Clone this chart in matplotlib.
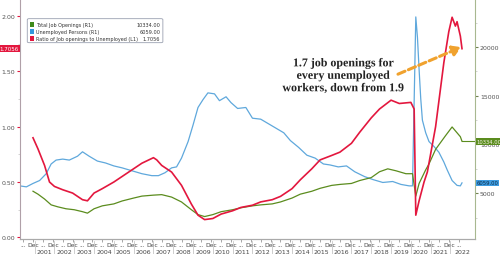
import numpy as np
import pandas as pd
import matplotlib
matplotlib.use("Agg")
import matplotlib.pyplot as plt
import matplotlib.patheffects as pe
import matplotlib.transforms as mtransforms
from matplotlib.patches import Rectangle, FancyBboxPatch

# unemployed persons (thousands)
unemp_dates = ['2000-04', '2000-08', '2000-12', '2001-04', '2001-08', '2001-11', '2002-02', '2002-06',
               '2002-10', '2003-03', '2003-06', '2003-10', '2004-03', '2004-08', '2005-01', '2005-06',
               '2005-12', '2006-06', '2006-12', '2007-04', '2007-08', '2007-12', '2008-03', '2008-06',
               '2008-10', '2009-01', '2009-04', '2009-07', '2009-10', '2010-02', '2010-05', '2010-09',
               '2010-12', '2011-04', '2011-09', '2012-01', '2012-06', '2012-11', '2013-03', '2013-08',
               '2013-12', '2014-05', '2014-10', '2015-03', '2015-08', '2015-12', '2016-05', '2016-10',
               '2017-03', '2017-09', '2018-02', '2018-08', '2019-02', '2019-07', '2019-12', '2020-02',
               '2020-04', '2020-05', '2020-06', '2020-07', '2020-08', '2020-10', '2020-12', '2021-03',
               '2021-06', '2021-09', '2021-11', '2022-02', '2022-05', '2022-07', '2022-08']
unemp_vals = [5750, 5650, 6000, 6300, 7000, 8000, 8400, 8500,
              8400, 8800, 9250, 8800, 8300, 8100, 7800, 7600,
              7300, 7000, 6800, 6800, 7100, 7600, 7700, 8600,
              10300, 12000, 13800, 14600, 15300, 15200, 14500, 14900,
              14300, 13700, 13800, 12700, 12600, 12100, 11700, 11200,
              10400, 9700, 8900, 8600, 8000, 7900, 7700, 7800,
              7200, 6700, 6400, 6100, 6200, 5900, 5750, 5750,
              23100, 21000, 17700, 14700, 12500, 11200, 10300, 9800,
              9200, 8200, 7400, 6300, 5800, 5750, 6059]

# total job openings (thousands)
open_dates = ['2000-12', '2001-03', '2001-07', '2001-11', '2002-03', '2002-08', '2003-01', '2003-06',
              '2003-09', '2004-01', '2004-06', '2005-01', '2005-06', '2006-01', '2006-06', '2007-01',
              '2007-06', '2007-12', '2008-06', '2008-12', '2009-04', '2009-08', '2010-01', '2010-06',
              '2011-01', '2011-06', '2012-01', '2012-06', '2013-01', '2013-06', '2014-01', '2014-06',
              '2015-01', '2015-06', '2016-01', '2016-06', '2017-01', '2017-06', '2018-01', '2018-06',
              '2018-11', '2019-04', '2019-10', '2020-02', '2020-04', '2020-06', '2020-10', '2020-12',
              '2021-04', '2021-07', '2021-10', '2022-02', '2022-05', '2022-07', '2022-08']
open_vals = [5200, 4900, 4400, 3800, 3600, 3400, 3300, 3100,
             2950, 3400, 3700, 3900, 4200, 4500, 4700, 4800,
             4850, 4600, 4100, 3300, 2800, 2600, 2800, 3100,
             3300, 3500, 3700, 3800, 3900, 4100, 4500, 4900,
             5200, 5500, 5800, 5900, 6000, 6300, 6600, 7200,
             7500, 7300, 7000, 7000, 4700, 6000, 7400, 8000,
             9500, 10200, 10900, 11800, 11200, 10800, 10334]

# ratio of job openings to unemployed
ratio_dates = ['2000-12', '2001-03', '2001-07', '2001-10', '2002-01', '2002-06', '2002-12', '2003-06',
               '2003-09', '2004-01', '2004-06', '2005-01', '2005-06', '2006-01', '2006-06', '2007-01',
               '2007-03', '2007-06', '2007-12', '2008-06', '2008-12', '2009-04', '2009-08', '2010-01',
               '2010-06', '2011-01', '2011-06', '2012-01', '2012-06', '2013-01', '2013-06', '2014-01',
               '2014-06', '2015-01', '2015-06', '2016-01', '2016-06', '2017-01', '2017-06', '2018-01',
               '2018-06', '2019-01', '2019-06', '2020-01', '2020-03', '2020-04', '2020-06', '2020-09',
               '2020-11', '2021-04', '2021-09', '2021-12', '2022-02', '2022-04', '2022-05', '2022-07',
               '2022-08']
ratio_vals = [0.90, 0.80, 0.65, 0.50, 0.46, 0.43, 0.40, 0.34,
              0.33, 0.40, 0.44, 0.50, 0.55, 0.62, 0.67, 0.72,
              0.70, 0.65, 0.59, 0.47, 0.30, 0.20, 0.16, 0.17,
              0.21, 0.24, 0.27, 0.29, 0.32, 0.34, 0.37, 0.44,
              0.52, 0.62, 0.70, 0.74, 0.77, 0.85, 0.95, 1.08,
              1.16, 1.24, 1.21, 1.22, 1.16, 0.20, 0.33, 0.50,
              0.59, 1.00, 1.58, 1.86, 1.99, 1.91, 1.95, 1.82,
              1.7056]

years = list(range(2001, 2023))
last_open, last_unemp, last_ratio = 10334.00, 6059.00, 1.7056

GREEN = '#5b8c1e'
BLUE = '#5fa8dc'
RED = '#e3173e'


def to_dec(dates):
    d = pd.to_datetime(dates)
    return d.year + (d.month - 1) / 12.0


fig = plt.figure(figsize=(5, 2.55), dpi=100)
ax = fig.add_axes([0.04, 0.059, 0.91, 0.941])
ax2 = ax.twinx()
ax.set_zorder(ax2.get_zorder() + 1)
ax.patch.set_visible(False)

ax2.plot(to_dec(unemp_dates), unemp_vals, color=BLUE, lw=0.9)
ax2.plot(to_dec(open_dates), open_vals, color=GREEN, lw=0.9)
ax2.plot([to_dec(open_dates)[-1], 2024], [last_open, last_open], color=GREEN, lw=0.8)
ax.plot(to_dec(ratio_dates), ratio_vals, color=RED, lw=1.2)

ax.set_xlim(2000.26, 2023.24)
ax.set_ylim(-0.015, 2.155)
ax2.set_ylim(300, 24940)

# spines
for a in (ax, ax2):
    a.spines['top'].set_visible(False)
    a.spines['bottom'].set_color('#aaaaaa')
ax.spines['left'].set_color('#b0a0a8')
ax2.spines['right'].set_color('#a8b890')
ax.spines['right'].set_visible(False)
ax2.spines['left'].set_visible(False)

# left axis
ax.set_yticks([0, 0.5, 1.0, 1.5, 2.0])
ax.set_yticklabels(['0.00', '0.50', '1.00', '1.50', '2.00'])
ax.set_yticks([0.25, 0.75, 1.25, 1.75], minor=True)
ax.tick_params(axis='y', labelsize=4.5, labelcolor='#555555', color=RED, length=2.5, width=0.8, pad=1)
ax.tick_params(axis='y', which='minor', color='#cccccc', length=1.5)

# right axis
ax2.set_yticks([5000, 10000, 15000, 20000])
ax2.set_yticks([2500, 7500, 12500, 17500, 22500], minor=True)
ax2.tick_params(axis='y', labelsize=4.5, labelcolor='#555555', color='#708050', length=2.5, width=0.8, pad=1)
ax2.tick_params(axis='y', which='minor', color='#cccccc', length=1.5)

# x axis: "..." / Dec row
all_years = [2000] + years
xt = [y + 5 / 12 for y in all_years] + [y + 11 / 12 for y in all_years[:-1]]
xl = ['...'] * len(all_years) + ['Dec'] * (len(all_years) - 1)
ax.set_xticks(xt)
ax.set_xticklabels(xl)
ax.tick_params(axis='x', labelsize=4.3, labelcolor='#444444', color='#999999',
               length=2, width=0.6, pad=0.5)

# year row with separators
trans = mtransforms.blended_transform_factory(ax.transData, ax.transAxes)
for y in years:
    ax.plot([y, y], [-0.01, -0.075], transform=trans, color='#bbbbbb', lw=0.5, clip_on=False)
    xc = y + 0.5 if y < years[-1] else 2022.62
    ax.text(xc, -0.052, str(y), transform=trans, ha='center', va='center', fontsize=4.5,
            color='#444444', clip_on=False)

# current value boxes
ax.text(-0.003, last_ratio, '%.4f' % last_ratio, transform=ax.get_yaxis_transform(),
        ha='right', va='center', fontsize=4.0, color='white',
        bbox=dict(boxstyle='square,pad=0.2', fc=RED, ec='none'))
ax2.text(1.003, last_open, '%.2f' % last_open, transform=ax2.get_yaxis_transform(),
         ha='left', va='center', fontsize=3.8, color='#f4f4e8',
         bbox=dict(boxstyle='square,pad=0.15', fc=GREEN, ec='none'))
ax2.text(1.003, last_unemp, '%.2f' % last_unemp, transform=ax2.get_yaxis_transform(),
         ha='left', va='center', fontsize=3.8, color='#10304a',
         bbox=dict(boxstyle='square,pad=0.15', fc='#3d9be0', ec='none'))

# legend
leg = FancyBboxPatch((0.016, 0.818), 0.298, 0.1, boxstyle='round,pad=0,rounding_size=0.004',
                     transform=ax.transAxes, fc='white', ec='#9aa0b0', lw=0.6, zorder=5)
ax.add_patch(leg)
entries = [('Total Job Openings (R1)', '%.2f' % last_open, '#3f8a1a'),
           ('Unemployed Persons (R1)', '%.2f' % last_unemp, '#3398dd'),
           ('Ratio of Job openings to Unemployed (L1)', '%.4f' % last_ratio, RED)]
for i, (lab, val, col) in enumerate(entries):
    yy = 0.895 - i * 0.03
    ax.add_patch(Rectangle((0.022, yy - 0.011), 0.009, 0.022, transform=ax.transAxes,
                           fc=col, ec='none', zorder=6))
    ax.text(0.036, yy, lab, transform=ax.transAxes, fontsize=3.5, va='center',
            color='#333333', zorder=6)
    ax.text(0.308, yy, val, transform=ax.transAxes, fontsize=3.6, va='center', ha='right',
            color='#333333', zorder=6)

# annotation
ax.annotate('', xy=(2022.55, 1.72), xytext=(2019.35, 1.475),
            arrowprops=dict(arrowstyle='-|>,head_length=0.5,head_width=0.3', color='#f0a22e',
                            lw=2.2, linestyle=(0, (2.5, 1.2)), shrinkA=0, shrinkB=0), zorder=7)
ax.text(0.71, 0.68, '1.7 job openings for\nevery unemployed\nworkers, down from 1.9',
        transform=ax.transAxes, ha='center', va='center', fontsize=8.6, fontweight='bold',
        family='Liberation Serif', color='#222222', linespacing=1.05, zorder=8,
        path_effects=[pe.withStroke(linewidth=2, foreground='white')])

fig.savefig('out.png', dpi=100)
